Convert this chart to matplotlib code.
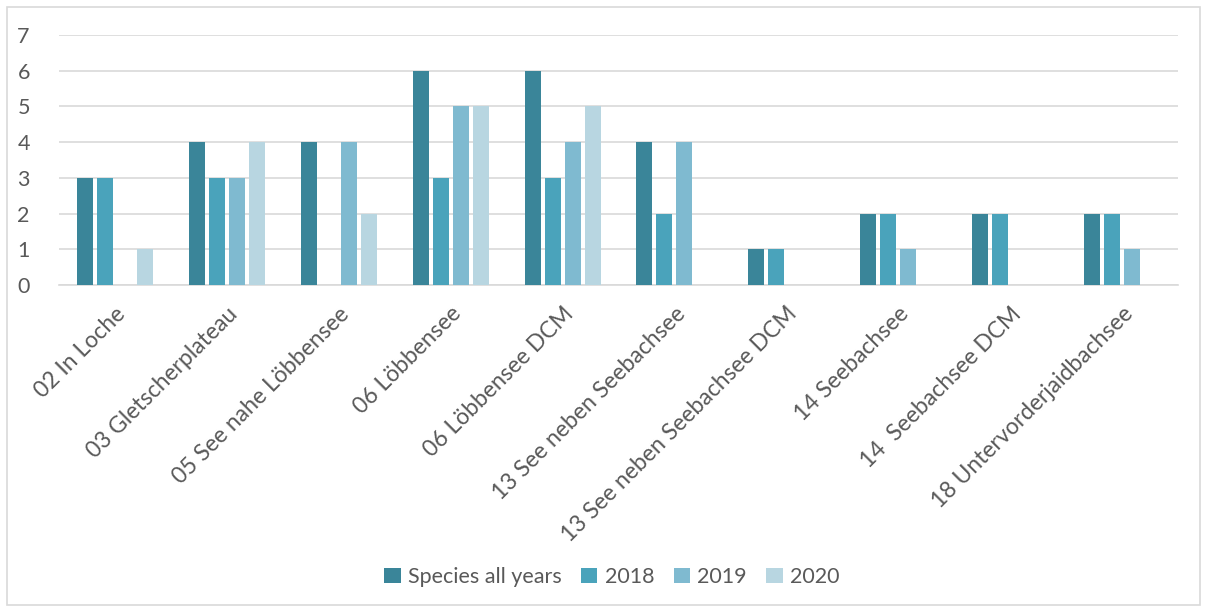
import numpy as np
import matplotlib.pyplot as plt
from matplotlib.patches import Rectangle

plt.rcParams['font.family'] = ['Lato', 'DejaVu Sans']

sites = ['02 In Loche', '03 Gletscherplateau', '05 See nahe Löbbensee', '06 Löbbensee',
         '06 Löbbensee DCM', '13 See neben Seebachsee', '13 See neben Seebachsee DCM',
         '14 Seebachsee', '14  Seebachsee DCM', '18 Untervorderjaidbachsee']
species_all = [3, 4, 4, 6, 6, 4, 1, 2, 2, 2]
y2018 = [3, 3, 0, 3, 3, 2, 1, 2, 2, 2]
y2019 = [0, 3, 4, 5, 4, 4, 0, 1, 0, 1]
y2020 = [1, 4, 2, 5, 5, 0, 0, 0, 0, 0]

series = [('Species all years', species_all, '#3A8599'),
          ('2018', y2018, '#4AA3BB'),
          ('2019', y2019, '#7FBAD0'),
          ('2020', y2020, '#B8D6E1')]

txt = '#595959'
grid = '#D9D9D9'
fs = 15.5

fig = plt.figure(figsize=(12.06, 6.12), dpi=100)
fig.patches.append(Rectangle((7/1206, 7/612), 1193/1206, 598/612, transform=fig.transFigure,
                             fill=False, edgecolor=grid, linewidth=1.2))
ax = fig.add_axes([59/1206, 1-285/612, 1119/1206, 250/612])

x = np.arange(len(sites))
step = 0.179
w = 0.143
for i, (name, vals, col) in enumerate(series):
    ax.bar(x + (i - 1.5)*step, vals, width=w, color=col, label=name, zorder=3)

ax.set_xlim(-0.5, len(sites) - 0.5)
ax.set_ylim(0, 7)
ax.set_yticks(range(8))
ax.yaxis.grid(True, color=grid, linewidth=1.2, zorder=0)
for s in ['top', 'right', 'left']:
    ax.spines[s].set_visible(False)
ax.spines['bottom'].set_color(grid)
ax.spines['bottom'].set_linewidth(1.2)
ax.tick_params(axis='both', length=0, colors=txt, labelsize=fs)
ax.tick_params(axis='y', pad=21)
ax.set_xticks(x)
ax.set_xticklabels(sites, rotation=45, ha='right', rotation_mode='anchor', fontsize=16.5)
ax.tick_params(axis='x', pad=13)

fig.legend(loc='center', bbox_to_anchor=(612/1206, 1-577/612), ncol=4, frameon=False,
           handlelength=0.75, handleheight=0.75, handletextpad=0.35, columnspacing=0.9,
           fontsize=fs, labelcolor=txt)

fig.savefig('out.png', dpi=100)
